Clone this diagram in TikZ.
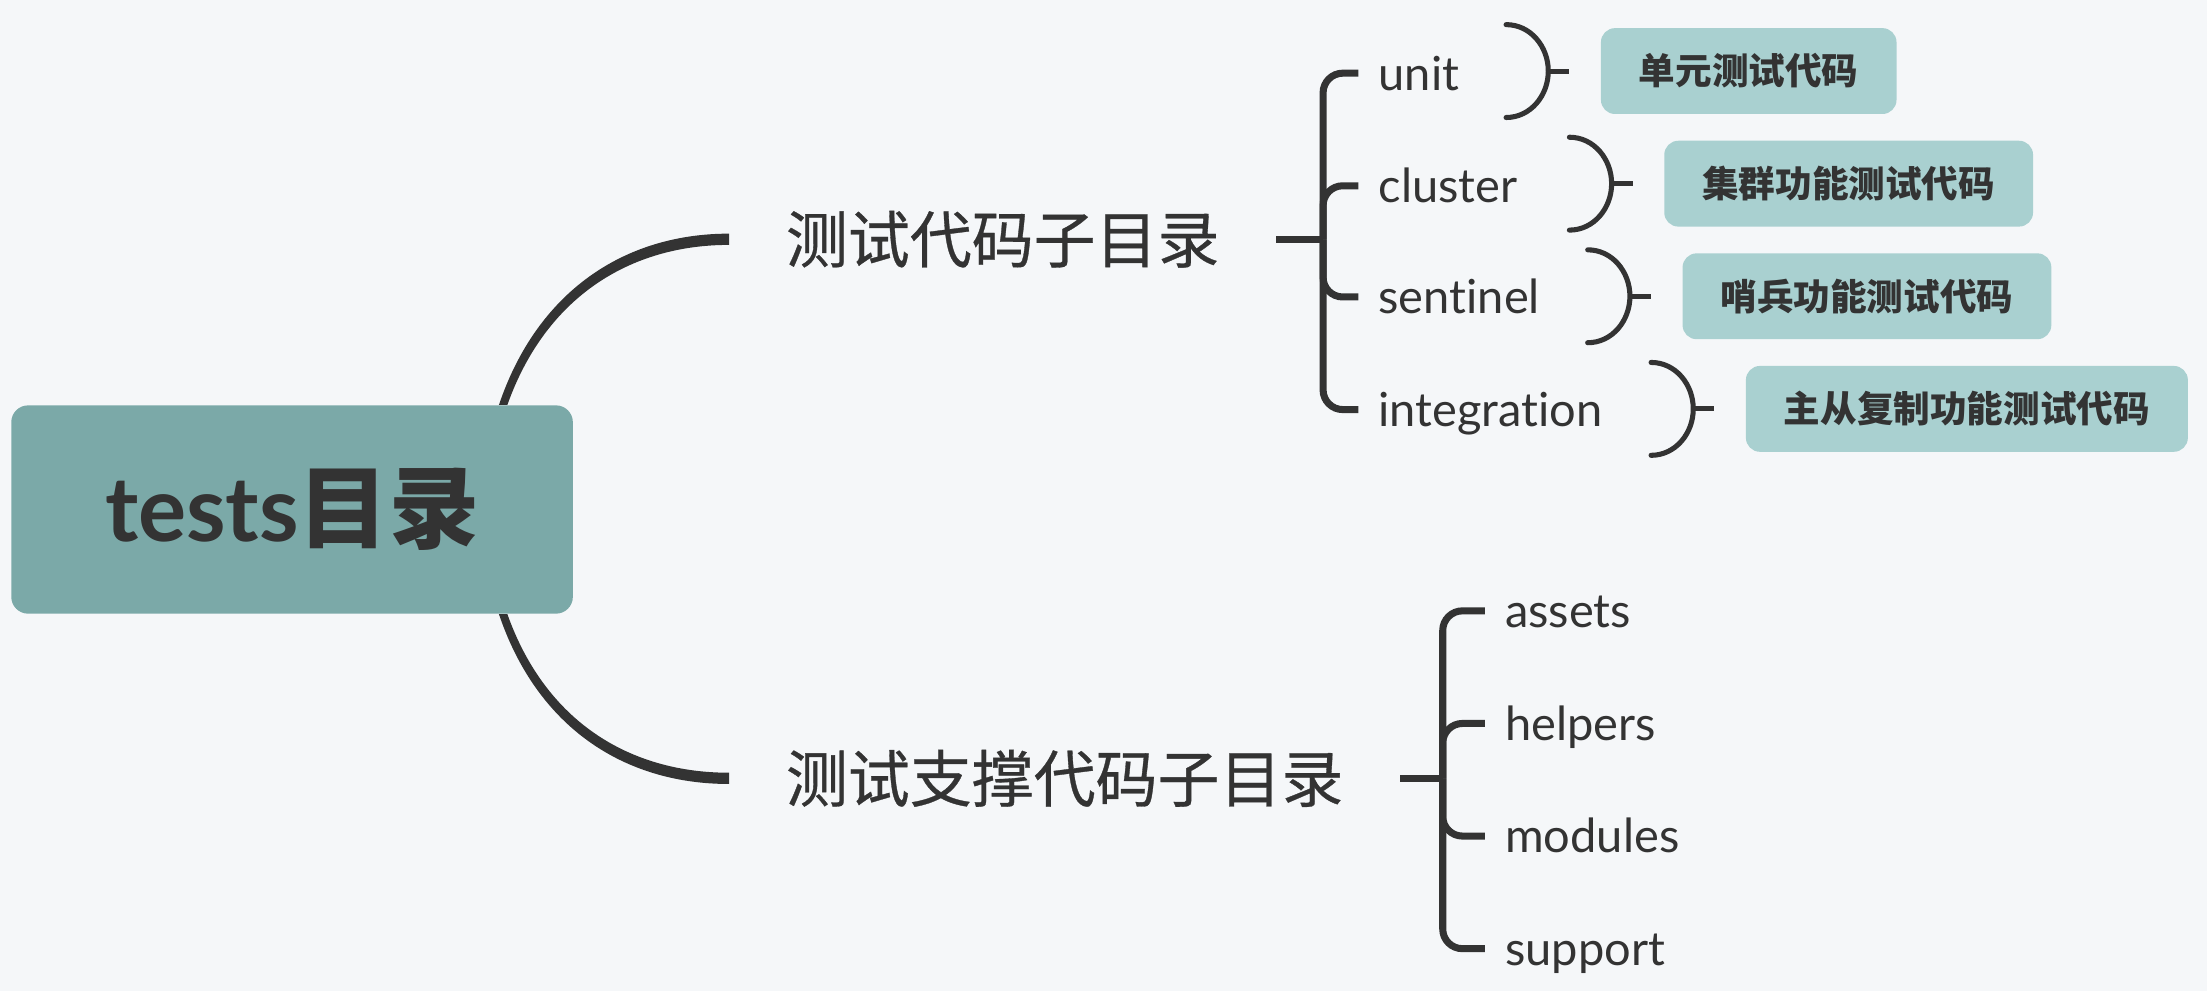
\documentclass[tikz,border=0pt]{standalone}
\usepackage{fontspec}
\setmainfont{Lato}[Ligatures=NoCommon]
\newfontfamily\cjk{Noto Sans CJK SC}
\newfontfamily\cjkmid{Noto Sans CJK SC}[FakeBold=0.5]
\usetikzlibrary{calc}

\definecolor{ink}{HTML}{333333}
\definecolor{paper}{HTML}{F5F7F9}
\definecolor{rootfill}{HTML}{7BA9A8}
\definecolor{notefill}{HTML}{A9D0D0}

\tikzset{
  topic/.style = {anchor=west, inner xsep=20pt, text=ink, font=\cjkmid\fontsize{22}{26}\selectfont},
  leaf/.style = {anchor=west, inner xsep=7pt, inner ysep=0pt, text height=12pt, text depth=0pt, text=ink, font=\fontsize{16.7}{20}\selectfont},
  note/.style = {anchor=west, fill=notefill, rounded corners=5pt, minimum height=30.5pt, inner xsep=13.5pt, text=ink, font=\cjk\bfseries\fontsize{13}{16}\selectfont},
  branch/.style = {fill=ink, draw=none},
  brace/.style = {draw=ink, line width=2.5pt, rounded corners=7pt},
  paren/.style = {draw=ink, line width=1.8pt, line cap=round},
}

\begin{document}
\begin{tikzpicture}[x=0.5pt, y=-0.5pt]
\useasboundingbox[fill=paper] (0,0) rectangle (1568,704);

\node[fill=rootfill, rounded corners=6pt, minimum width=199.5pt, minimum height=74pt, text=ink, font=\bfseries\fontsize{32}{36}\selectfont] (root) at (207.5,362) {tests{\cjk 目录}};

\node[topic] (sub) at (518,170) {测试代码子目录};
\node[topic] (aux) at (518,553) {测试支撑代码子目录};

% tapered branches, thicker at the topic end
\path[branch] ($(root.north)+(147,0)$) .. controls ($(root.north)+(174,-80)$) and ($(sub.west)+(-75,-4)$) .. ($(sub.west)+(0,-4)$)
  -- ($(sub.west)+(0,4)$) .. controls ($(sub.west)+(-71,4)$) and ($(root.north)+(180,-76)$) .. ($(root.north)+(153,0)$) -- cycle;
\path[branch] ($(root.south)+(147,0)$) .. controls ($(root.south)+(174,80)$) and ($(aux.west)+(-75,4)$) .. ($(aux.west)+(0,4)$)
  -- ($(aux.west)+(0,-4)$) .. controls ($(aux.west)+(-71,-4)$) and ($(root.south)+(180,76)$) .. ($(root.south)+(153,0)$) -- cycle;

% test code folders
\coordinate (subfork) at (940,170);
\draw[brace] (sub.east) -- (subfork);
\foreach \n/\y in {unit/52, cluster/132, sentinel/211, integration/291} {
  \node[leaf] (\n) at (965,\y) {\n};
  \draw[brace] (subfork) |- (\n.west);
}

\foreach \n/\t/\x/\y in {unit/单元测试代码/1137/50.5, cluster/集群功能测试代码/1182/130.5, sentinel/哨兵功能测试代码/1195/210.5, integration/主从复制功能测试代码/1240/290.5} {
  \node[note] (\n box) at (\x,\y) {\t};
  \coordinate (\n tip) at ($(\n box.west)+(-22,0)$);
  \draw[paren] ($(\n box.west)+(-67,-33)$) to[out=0,in=90] ($(\n box.west)+(-37,0)$) to[out=-90,in=0] ($(\n box.west)+(-67,33)$);
  \draw[paren, line cap=butt] ($(\n box.west)+(-37,0)$) -- (\n tip);
}

% support folders
\coordinate (auxfork) at (1025,553);
\draw[brace] (aux.east) -- (auxfork);
\foreach \n/\y in {assets/434, helpers/514, modules/594, support/674} {
  \node[leaf] (\n) at (1055,\y) {\n};
  \draw[brace] (auxfork) |- (\n.west);
}
\end{tikzpicture}
\end{document}
